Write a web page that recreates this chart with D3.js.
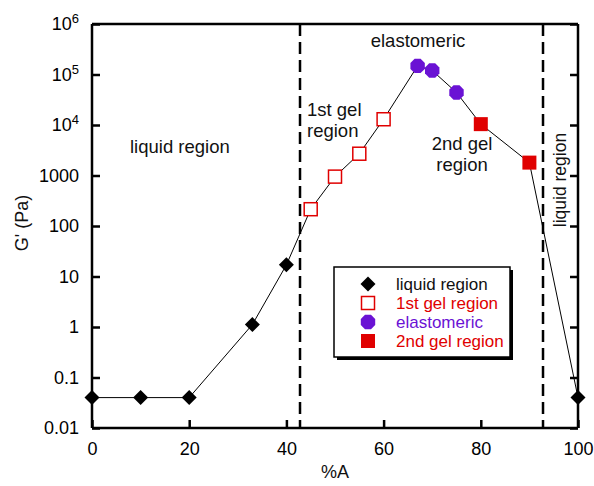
<!DOCTYPE html>
<html><head><meta charset="utf-8">
<script src="https://cdn.jsdelivr.net/npm/d3@7"></script>
<style>
body{margin:0;background:#fff;}
svg{display:block;font-family:"Liberation Sans",Arial,sans-serif;}
</style></head>
<body><svg id="c" width="594" height="486"></svg>
<script>
// ---- data ----
const liquidX = [0, 10, 20, 33, 40, 100];
const liquidY = [0.04, 0.04, 0.04, 1.12, 17, 0.04];
const gel1X = [45, 50, 55, 60];
const gel1Y = [215, 950, 2700, 13000];
const elastX = [67, 70, 75];
const elastY = [148000, 120000, 44000];
const gel2X = [80, 90];
const gel2Y = [10400, 1800];
const xTicks = [0, 20, 40, 60, 80, 100];
const yTicks = [0.01, 0.1, 1, 10, 100, 1000, 1e4, 1e5, 1e6];
const yTickLabels = ["0.01", "0.1", "1", "10", "100", "1000", "10^4", "10^5", "10^6"];
const boundaries = [42.8, 92.8];
const legendLabels = ["liquid region", "1st gel region", "elastomeric", "2nd gel region"];

const RED = "#e00000", PURPLE = "#6a12d4";
const svg = d3.select("#c");
const L = 92, R = 578, T = 24, B = 428;
const x = d3.scaleLinear().domain([0, 100]).range([L, R]);
const y = d3.scaleLog().domain([0.01, 1e6]).range([B, T]);

// connecting line (all points by x)
const all = [];
liquidX.forEach((v,i)=>all.push([v, liquidY[i]]));
gel1X.forEach((v,i)=>all.push([v, gel1Y[i]]));
elastX.forEach((v,i)=>all.push([v, elastY[i]]));
gel2X.forEach((v,i)=>all.push([v, gel2Y[i]]));
all.sort((a,b)=>a[0]-b[0]);
svg.append("path").datum(all)
  .attr("d", d3.line().x(d=>x(d[0])).y(d=>y(d[1])))
  .attr("fill","none").attr("stroke","#000").attr("stroke-width",1);

// dashed boundaries
svg.selectAll("line.bd").data(boundaries).join("line")
  .attr("x1", d=>x(d)).attr("x2", d=>x(d)).attr("y1", T).attr("y2", B)
  .attr("stroke","#000").attr("stroke-width",2.5).attr("stroke-dasharray","12,6");

// axes
const fs = "18px";
const ax = svg.append("g").attr("transform",`translate(0,${B})`)
  .call(d3.axisBottom(x).tickValues(xTicks).tickSize(-8).tickPadding(14));
ax.selectAll("text").attr("font-size",fs).attr("fill","#000").attr("font-family","Liberation Sans, Arial, sans-serif");
const ay = svg.append("g").attr("transform",`translate(${L},0)`)
  .call(d3.axisLeft(y).tickValues(yTicks).tickSize(-8).tickPadding(13).tickFormat(""));
ay.selectAll(".tick text").each(function(d,i){
  const t = d3.select(this).attr("font-size",fs).attr("fill","#000").attr("font-family","Liberation Sans, Arial, sans-serif");
  const lab = yTickLabels[i];
  if (lab.includes("^")) {
    const [b,e] = lab.split("^");
    t.append("tspan").text(b);
    t.append("tspan").attr("font-size","13px").attr("dy","-7").text(e);
  } else t.text(lab);
});
const ar = svg.append("g").attr("transform",`translate(${R},0)`)
  .call(d3.axisRight(y).tickValues(yTicks).tickSize(-8).tickFormat(""));
const at = svg.append("g").attr("transform",`translate(0,${T})`)
  .call(d3.axisTop(x).tickValues([]).tickSize(0));
[ax, ay, ar, at].forEach(g=>{
  g.select(".domain").attr("stroke-width",2.5).attr("stroke","#000");
  g.selectAll(".tick line").attr("stroke-width",2.5).attr("stroke","#000");
});
ar.select(".domain").attr("d", `M0,${T}V${B}`);
at.select(".domain").attr("d", `M${L},0H${R}`);
ax.select(".domain").attr("d", `M${L},0H${R}`);
ay.select(".domain").attr("d", `M0,${T}V${B}`);

// markers
const diamond = "M0,-7.5L7.5,0L0,7.5L-7.5,0Z";
const octagon = r => { let p=[]; for(let k=0;k<8;k++){const a=Math.PI/8+k*Math.PI/4; p.push([r*Math.cos(a), r*Math.sin(a)]);} return "M"+p.join("L")+"Z"; };
svg.selectAll("path.liq").data(liquidX).join("path")
  .attr("transform",(d,i)=>`translate(${x(d)},${y(liquidY[i])})`)
  .attr("d", diamond).attr("fill","#000");
svg.selectAll("rect.g1").data(gel1X).join("rect")
  .attr("x",d=>x(d)-6.5).attr("y",(d,i)=>y(gel1Y[i])-6.5).attr("width",13).attr("height",13)
  .attr("fill","#fff").attr("stroke",RED).attr("stroke-width",1.5);
svg.selectAll("path.el").data(elastX).join("path")
  .attr("transform",(d,i)=>`translate(${x(d)},${y(elastY[i])})`)
  .attr("d", octagon(7.8)).attr("fill",PURPLE);
svg.selectAll("rect.g2").data(gel2X).join("rect")
  .attr("x",d=>x(d)-7).attr("y",(d,i)=>y(gel2Y[i])-7).attr("width",14).attr("height",14)
  .attr("fill",RED);

// region annotations
const ann = svg.append("g").attr("font-size","18.5px").attr("fill","#111");
ann.append("text").attr("x",130).attr("y",153).text("liquid region");
ann.append("text").attr("x",307).attr("y",116).text("1st gel");
ann.append("text").attr("x",307).attr("y",137).text("region");
ann.append("text").attr("x",418).attr("y",47).attr("text-anchor","middle").text("elastomeric");
ann.append("text").attr("x",462).attr("y",150).attr("text-anchor","middle").text("2nd gel");
ann.append("text").attr("x",462).attr("y",171).attr("text-anchor","middle").text("region");
ann.append("text").attr("transform","translate(566,180) rotate(-90)").attr("text-anchor","middle").attr("font-size","17.5px").text("liquid region");

// axis titles
svg.append("text").attr("transform","translate(28,223) rotate(-90)").attr("text-anchor","middle")
  .attr("font-size","18px").attr("fill","#111").text("G' (Pa)");
svg.append("text").attr("x",335).attr("y",478).attr("text-anchor","middle")
  .attr("font-size","18px").attr("fill","#111").text("%A");

// legend
const lg = svg.append("g");
lg.append("rect").attr("x",337).attr("y",270).attr("width",176).attr("height",90).attr("fill","#000");
lg.append("rect").attr("x",334).attr("y",267).attr("width",176).attr("height",90).attr("fill","#fff").attr("stroke","#000").attr("stroke-width",1.5);
const ly = [284, 303, 322, 341];
const lcol = ["#111", RED, PURPLE, RED];
lg.append("path").attr("transform",`translate(368,${ly[0]})`).attr("d",diamond).attr("fill","#000");
lg.append("rect").attr("x",361.5).attr("y",ly[1]-6.5).attr("width",13).attr("height",13).attr("fill","#fff").attr("stroke",RED).attr("stroke-width",1.5);
lg.append("path").attr("transform",`translate(368,${ly[2]})`).attr("d",octagon(7.8)).attr("fill",PURPLE);
lg.append("rect").attr("x",361).attr("y",ly[3]-7).attr("width",14).attr("height",14).attr("fill",RED);
lg.selectAll("text.lt").data(legendLabels).join("text")
  .attr("x",396).attr("y",(d,i)=>ly[i]+6).attr("font-size","17px").attr("fill",(d,i)=>lcol[i]).text(d=>d);
</script></body></html>
